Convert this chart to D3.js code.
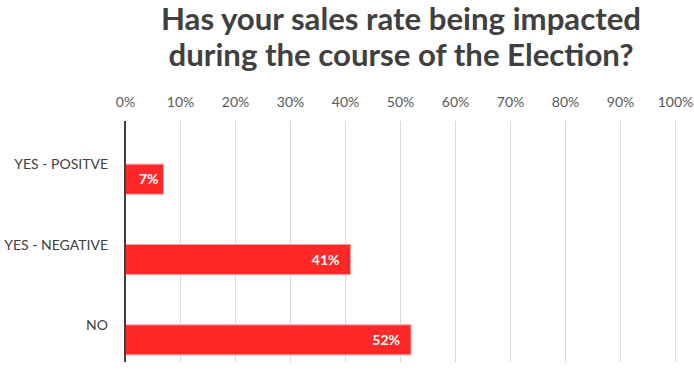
<!DOCTYPE html>
<html>
<head>
<meta charset="utf-8">
<script src="https://cdn.jsdelivr.net/npm/d3@7/dist/d3.min.js"></script>
<style>
  body { margin: 0; background: #fff; }
  svg { display: block; font-family: Lato, 'Open Sans', sans-serif; }
</style>
</head>
<body>
<svg width="694" height="372"></svg>
<script>
const titleLines = ['Has your sales rate being impacted', 'during the course of the Election?'];
const categories = ['YES - POSITVE', 'YES - NEGATIVE', 'NO'];
const values = [7, 41, 52];
const tickValues = [0, 10, 20, 30, 40, 50, 60, 70, 80, 90, 100];

const svg = d3.select('svg');

const margin = { left: 125, right: 19, top: 121, bottom: 10 };
const width = 694 - margin.left - margin.right;
const height = 372 - margin.top - margin.bottom;

const x = d3.scaleLinear().domain([0, 100]).range([margin.left, margin.left + width]);
const y = d3.scaleBand().domain(categories).range([margin.top, margin.top + height]);

// title, stretched to the width of the original
const titleWidths = [480, 465];

svg.append('g')
  .selectAll('text')
  .data(titleLines)
  .join('text')
  .attr('x', 401)
  .attr('y', (d, i) => 30 + i * 36)
  .attr('text-anchor', 'middle')
  .attr('fill', '#404040')
  .attr('textLength', (d, i) => titleWidths[i])
  .attr('lengthAdjust', 'spacingAndGlyphs')
  .style('font-size', '30px')
  .style('font-weight', 'bold')
  .text(d => d);

// gridlines
svg.append('g')
  .selectAll('line')
  .data(tickValues.filter(d => d > 0))
  .join('line')
  .attr('x1', d => x(d) + 0.5)
  .attr('x2', d => x(d) + 0.5)
  .attr('y1', margin.top)
  .attr('y2', margin.top + height)
  .attr('stroke', '#d9d9d9')
  .attr('stroke-width', 1);

// top axis labels
const xAxis = svg.append('g')
  .attr('transform', `translate(0,${ margin.top - 14 })`)
  .call(d3.axisTop(x).tickValues(tickValues).tickFormat(d => d + '%').tickSize(0).tickPadding(0));

xAxis.select('.domain').remove();
xAxis.selectAll('text')
  .attr('fill', '#595959')
  .style('font-size', '14px')
  .style('font-family', 'Lato, sans-serif');

// bars sit in the lower half of each band
const barOffset = y.bandwidth() / 2 + 3;
const barHeight = 30;

svg.append('g')
  .selectAll('rect')
  .data(values)
  .join('rect')
  .attr('x', x(0))
  .attr('y', (d, i) => y(categories[i]) + barOffset)
  .attr('width', d => x(d) - x(0))
  .attr('height', barHeight)
  .attr('fill', '#ff2828')
  .attr('stroke', '#ff9c9c')
  .attr('stroke-width', 1);

// value labels
svg.append('g')
  .selectAll('text')
  .data(values)
  .join('text')
  .attr('x', d => x(d) - (d < 10 ? 5 : 11))
  .attr('y', (d, i) => y(categories[i]) + barOffset + barHeight / 2 + 5)
  .attr('text-anchor', 'end')
  .attr('fill', '#fff')
  .style('font-size', '14px')
  .style('font-weight', 'bold')
  .text(d => d + '%');

// category labels
svg.append('g')
  .selectAll('text')
  .data(categories)
  .join('text')
  .attr('x', 108)
  .attr('y', d => y(d) + y.bandwidth() / 2 + 8)
  .attr('text-anchor', 'end')
  .attr('fill', '#404040')
  .style('font-size', '14px')
  .text(d => d);

// vertical category axis line
svg.append('line')
  .attr('x1', x(0))
  .attr('x2', x(0))
  .attr('y1', margin.top)
  .attr('y2', margin.top + height)
  .attr('stroke', '#404040')
  .attr('stroke-width', 2);
</script>
</body>
</html>
